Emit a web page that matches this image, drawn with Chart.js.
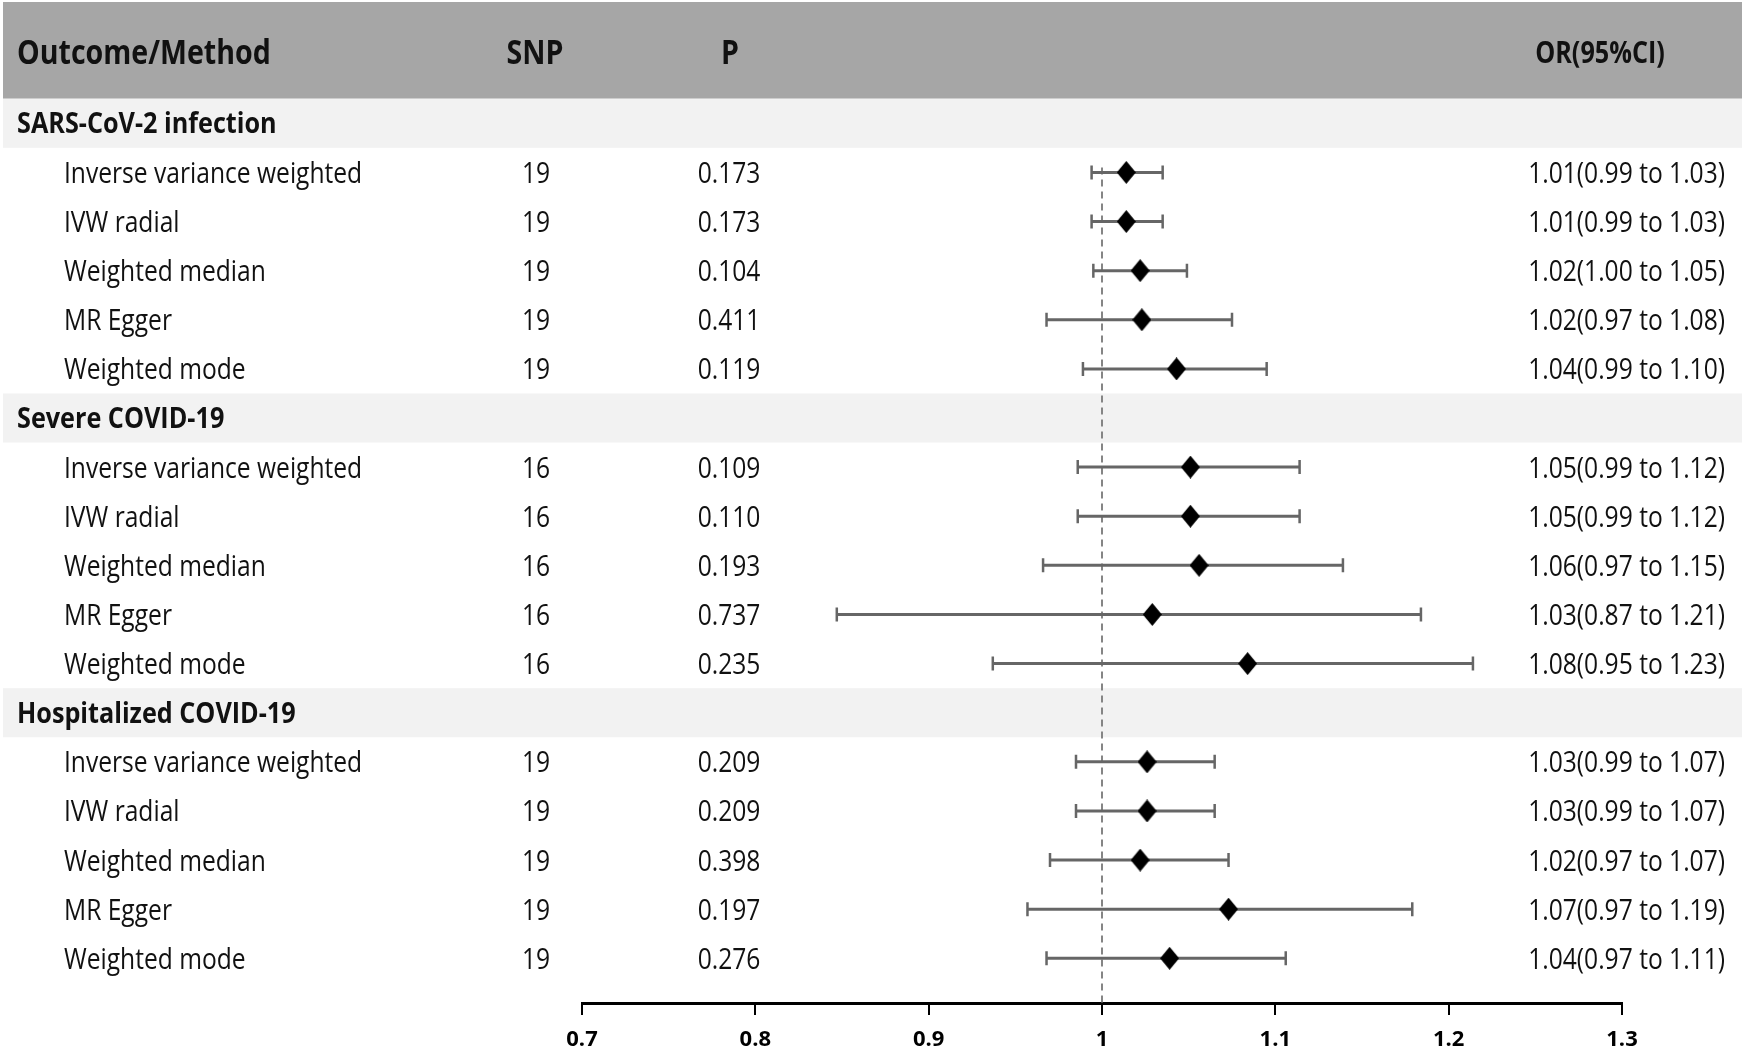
<!DOCTYPE html>
<html>
<head>
<meta charset="utf-8">
<title>MR forest plot</title>
<script src="https://cdn.jsdelivr.net/npm/chart.js@4.4.1/dist/chart.umd.min.js"></script>
<style>
  html, body { margin: 0; padding: 0; background: #fff; }
  canvas { display: block; }
</style>
</head>
<body>
<canvas id="forest" width="1760" height="1050"></canvas>
<script>
// --- data ---
const outcomes = ['SARS-CoV-2 infection', 'Severe COVID-19', 'Hospitalized COVID-19'];
const methods = ['Inverse variance weighted', 'IVW radial', 'Weighted median', 'MR Egger', 'Weighted mode'];
const snpCounts = [19, 19, 19, 19, 19, 16, 16, 16, 16, 16, 19, 19, 19, 19, 19];
const pValues = ['0.173', '0.173', '0.104', '0.411', '0.119',
                 '0.109', '0.110', '0.193', '0.737', '0.235',
                 '0.209', '0.209', '0.398', '0.197', '0.276'];
const orEst   = [1.014, 1.014, 1.022, 1.023, 1.043,
                 1.051, 1.051, 1.056, 1.029, 1.084,
                 1.026, 1.026, 1.022, 1.073, 1.039];
const ciLower = [0.994, 0.994, 0.995, 0.968, 0.989,
                 0.986, 0.986, 0.966, 0.847, 0.937,
                 0.985, 0.985, 0.970, 0.957, 0.968];
const ciUpper = [1.035, 1.035, 1.049, 1.075, 1.095,
                 1.114, 1.114, 1.139, 1.184, 1.214,
                 1.065, 1.065, 1.073, 1.179, 1.106];
const orText = ['1.01(0.99 to 1.03)', '1.01(0.99 to 1.03)', '1.02(1.00 to 1.05)', '1.02(0.97 to 1.08)', '1.04(0.99 to 1.10)',
                '1.05(0.99 to 1.12)', '1.05(0.99 to 1.12)', '1.06(0.97 to 1.15)', '1.03(0.87 to 1.21)', '1.08(0.95 to 1.23)',
                '1.03(0.99 to 1.07)', '1.03(0.99 to 1.07)', '1.02(0.97 to 1.07)', '1.07(0.97 to 1.19)', '1.04(0.97 to 1.11)'];
const xTicks = [0.7, 0.8, 0.9, 1, 1.1, 1.2, 1.3];
const xTickLabels = ['0.7', '0.8', '0.9', '1', '1.1', '1.2', '1.3'];
const headers = ['Outcome/Method', 'SNP', 'P', 'OR(95%CI)'];

// each outcome = one section row followed by its method rows
const sectionRows = outcomes.map((o, i) => i * (methods.length + 1));
const methodRows = [];
outcomes.forEach((o, i) => methods.forEach((m, j) => methodRows.push(sectionRows[i] + j + 1)));

// slightly tall diamond marker
const diamond = document.createElement('canvas');
diamond.width = 19;
diamond.height = 23;
const dctx = diamond.getContext('2d');
dctx.fillStyle = '#000';
dctx.beginPath();
dctx.moveTo(9.5, 0);
dctx.lineTo(19, 11.5);
dctx.lineTo(9.5, 23);
dctx.lineTo(0, 11.5);
dctx.closePath();
dctx.fill();

// condensed text helper
function text(ctx, s, x, y, font, align, sx) {
  ctx.save();
  ctx.font = font;
  ctx.textAlign = align;
  ctx.textBaseline = 'middle';
  ctx.fillStyle = '#111';
  ctx.translate(x, y + 2);
  ctx.scale(sx, 1);
  ctx.fillText(s, 0, 0);
  ctx.restore();
}

const tablePlugin = {
  id: 'forestTable',
  beforeDraw(chart) {
    const { ctx } = chart;
    const y = chart.scales.y;
    ctx.save();
    ctx.fillStyle = '#fff';
    ctx.fillRect(0, 0, chart.width, chart.height);
    // header band
    ctx.fillStyle = '#a6a6a6';
    ctx.fillRect(3, 2, 1739, y.getPixelForValue(-0.5) - 2);
    // outcome bands
    ctx.fillStyle = '#f2f2f2';
    sectionRows.forEach(r => {
      const top = y.getPixelForValue(r - 0.5);
      const bottom = y.getPixelForValue(r + 0.5);
      ctx.fillRect(3, top, 1739, bottom - top);
    });
    ctx.restore();
  },
  beforeDatasetsDraw(chart) {
    const { ctx, chartArea } = chart;
    const { x, y } = chart.scales;
    ctx.save();
    // null line at OR = 1
    ctx.strokeStyle = '#858585';
    ctx.lineWidth = 2;
    ctx.setLineDash([7, 5]);
    ctx.beginPath();
    ctx.moveTo(x.getPixelForValue(1), y.getPixelForValue(0.9));
    ctx.lineTo(x.getPixelForValue(1), chartArea.bottom);
    ctx.stroke();
    ctx.setLineDash([]);
    // confidence intervals
    ctx.strokeStyle = '#666';
    methodRows.forEach((r, i) => {
      const py = y.getPixelForValue(r);
      const x0 = x.getPixelForValue(ciLower[i]);
      const x1 = x.getPixelForValue(ciUpper[i]);
      ctx.lineWidth = 3;
      ctx.beginPath();
      ctx.moveTo(x0, py);
      ctx.lineTo(x1, py);
      ctx.stroke();
      ctx.lineWidth = 2.5;
      ctx.beginPath();
      ctx.moveTo(x0, py - 7);
      ctx.lineTo(x0, py + 7);
      ctx.moveTo(x1, py - 7);
      ctx.lineTo(x1, py + 7);
      ctx.stroke();
    });
    ctx.restore();
  },
  afterDraw(chart) {
    const { ctx } = chart;
    const y = chart.scales.y;
    const hy = (2 + y.getPixelForValue(-0.5)) / 2 + 2;
    const bold34 = 'bold 34px "Open Sans"';
    text(ctx, headers[0], 17, hy, bold34, 'left', 0.84);
    text(ctx, headers[1], 535, hy, bold34, 'center', 0.84);
    text(ctx, headers[2], 730, hy, bold34, 'center', 0.84);
    text(ctx, headers[3], 1600, hy, 'bold 30px "Open Sans"', 'center', 0.84);

    outcomes.forEach((o, i) => {
      text(ctx, o, 17, y.getPixelForValue(sectionRows[i]), 'bold 28px "Open Sans"', 'left', 0.9);
    });

    const reg = '30px "Open Sans"';
    methodRows.forEach((r, i) => {
      const py = y.getPixelForValue(r);
      text(ctx, methods[i % methods.length], 64, py, reg, 'left', 0.82);
      text(ctx, String(snpCounts[i]), 536, py, reg, 'center', 0.82);
      text(ctx, pValues[i], 729, py, reg, 'center', 0.82);
      text(ctx, orText[i], 1725, py, reg, 'right', 0.82);
    });
  }
};

function draw() {
  new Chart(document.getElementById('forest'), {
    type: 'scatter',
    data: {
      datasets: [{
        data: orEst.map((v, i) => ({ x: v, y: methodRows[i] })),
        pointStyle: diamond,
        pointRadius: 10,
        pointHoverRadius: 10
      }]
    },
    options: {
      responsive: false,
      devicePixelRatio: 1,
      animation: false,
      events: [],
      layout: { autoPadding: false, padding: { left: 582, right: 138, top: 0, bottom: 0 } },
      plugins: { legend: { display: false }, tooltip: { enabled: false } },
      scales: {
        x: {
          type: 'linear',
          min: 0.7,
          max: 1.3,
          afterBuildTicks: s => { s.ticks = xTicks.map(v => ({ value: v })); },
          afterFit: s => { s.height = 47; },
          grid: { drawOnChartArea: false, drawTicks: true, tickLength: 12, color: '#000', lineWidth: 2 },
          border: { display: true, color: '#000', width: 3 },
          ticks: {
            padding: 12,
            color: '#000',
            font: { family: 'Open Sans', size: 22, weight: 'bold' },
            callback: (v, i) => xTickLabels[i]
          }
        },
        y: {
          type: 'linear',
          reverse: true,
          min: -2.51,
          max: 17.91,
          display: false
        }
      }
    },
    plugins: [tablePlugin]
  });
}

Promise.all([
  document.fonts.load('30px "Open Sans"'),
  document.fonts.load('bold 30px "Open Sans"')
]).then(draw, draw);
</script>
</body>
</html>
